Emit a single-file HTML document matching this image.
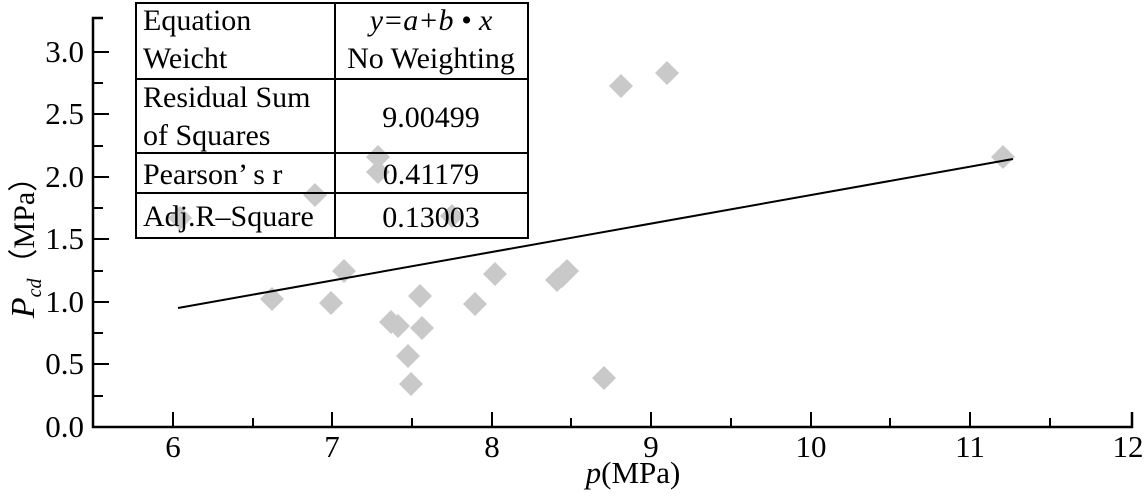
<!DOCTYPE html>
<html><head><meta charset="utf-8"><style>
html,body{margin:0;padding:0;background:#fff;}
svg{display:block;font-family:"Liberation Serif",serif;}
</style></head><body>
<svg width="1145" height="498" viewBox="0 0 1145 498" xmlns="http://www.w3.org/2000/svg">
<g fill="#c9c9c9">
<path d="M180 206 l12 12 -12 12 -12 -12z"/>
<path d="M272 287 l12 12 -12 12 -12 -12z"/>
<path d="M315 183 l12 12 -12 12 -12 -12z"/>
<path d="M331 291 l12 12 -12 12 -12 -12z"/>
<path d="M344 259 l12 12 -12 12 -12 -12z"/>
<path d="M378 145 l12 12 -12 12 -12 -12z"/>
<path d="M378 160 l12 12 -12 12 -12 -12z"/>
<path d="M391 310 l12 12 -12 12 -12 -12z"/>
<path d="M398 314 l12 12 -12 12 -12 -12z"/>
<path d="M408 344 l12 12 -12 12 -12 -12z"/>
<path d="M411 372 l12 12 -12 12 -12 -12z"/>
<path d="M420 284 l12 12 -12 12 -12 -12z"/>
<path d="M422 316 l12 12 -12 12 -12 -12z"/>
<path d="M452 204 l12 12 -12 12 -12 -12z"/>
<path d="M475 292 l12 12 -12 12 -12 -12z"/>
<path d="M495 262 l12 12 -12 12 -12 -12z"/>
<path d="M557 268 l12 12 -12 12 -12 -12z"/>
<path d="M562 264 l12 12 -12 12 -12 -12z"/>
<path d="M567 259 l12 12 -12 12 -12 -12z"/>
<path d="M604 366 l12 12 -12 12 -12 -12z"/>
<path d="M621 74 l12 12 -12 12 -12 -12z"/>
<path d="M667 61 l12 12 -12 12 -12 -12z"/>
<path d="M1003 145 l12 12 -12 12 -12 -12z"/>
</g>
<line x1="178" y1="308" x2="1013" y2="159" stroke="#000" stroke-width="2"/>
<g stroke="#000" stroke-width="2.5" fill="none">
<path d="M103 18 H93 V427 H1132 V412"/>
</g>
<g stroke="#000" stroke-width="2">
<line x1="93" y1="52" x2="109" y2="52"/><line x1="93" y1="83" x2="103" y2="83"/>
<line x1="93" y1="114" x2="109" y2="114"/><line x1="93" y1="146" x2="103" y2="146"/>
<line x1="93" y1="177" x2="109" y2="177"/><line x1="93" y1="208" x2="103" y2="208"/>
<line x1="93" y1="239" x2="109" y2="239"/><line x1="93" y1="271" x2="103" y2="271"/>
<line x1="93" y1="302" x2="109" y2="302"/><line x1="93" y1="333" x2="103" y2="333"/>
<line x1="93" y1="364" x2="109" y2="364"/><line x1="93" y1="396" x2="103" y2="396"/>
<line x1="173" y1="427" x2="173" y2="412"/><line x1="253" y1="427" x2="253" y2="418"/>
<line x1="332" y1="427" x2="332" y2="412"/><line x1="412" y1="427" x2="412" y2="418"/>
<line x1="492" y1="427" x2="492" y2="412"/><line x1="571" y1="427" x2="571" y2="418"/>
<line x1="651" y1="427" x2="651" y2="412"/><line x1="731" y1="427" x2="731" y2="418"/>
<line x1="811" y1="427" x2="811" y2="412"/><line x1="890" y1="427" x2="890" y2="418"/>
<line x1="970" y1="427" x2="970" y2="412"/><line x1="1050" y1="427" x2="1050" y2="418"/>
</g>
<g font-size="31" text-anchor="end">
<text x="84" y="62">3.0</text><text x="84" y="124">2.5</text><text x="84" y="187">2.0</text>
<text x="84" y="249">1.5</text><text x="84" y="312">1.0</text><text x="84" y="374">0.5</text>
<text x="84" y="437">0.0</text>
</g>
<g font-size="31" text-anchor="middle">
<text x="173" y="457">6</text><text x="332" y="457">7</text><text x="492" y="457">8</text>
<text x="651" y="457">9</text><text x="811" y="457">10</text><text x="970" y="457">11</text>
<text x="1128" y="457">12</text>
<text x="633" y="483"><tspan font-style="italic">p</tspan>(MPa)</text>
</g>
<text transform="translate(34,240) rotate(-90)" font-size="30" text-anchor="middle"><tspan font-style="italic" font-size="34">P</tspan><tspan font-style="italic" font-size="20" dy="7">cd</tspan><tspan dy="-7">（MPa）</tspan></text>
<g stroke="#000" stroke-width="2" fill="none">
<rect x="136" y="3" width="392" height="235"/>
<line x1="335" y1="3" x2="335" y2="238"/>
<line x1="136" y1="79" x2="528" y2="79"/>
<line x1="136" y1="153" x2="528" y2="153"/>
<line x1="136" y1="193" x2="528" y2="193"/>
</g>
<g font-size="30">
<text x="143" y="30">Equation</text><text x="143" y="68">Weicht</text>
<text x="143" y="107">Residual Sum</text><text x="143" y="145">of Squares</text>
<text x="143" y="184">Pearson’ s r</text>
<text x="143" y="226">Adj.R–Square</text>
</g>
<g font-size="30" text-anchor="middle">
<text x="431" y="30" font-style="italic">y=a+b • x</text>
<text x="431" y="68">No Weighting</text>
<text x="431" y="127">9.00499</text>
<text x="431" y="184">0.41179</text>
<text x="431" y="227">0.13003</text>
</g>
</svg>
</body></html>
